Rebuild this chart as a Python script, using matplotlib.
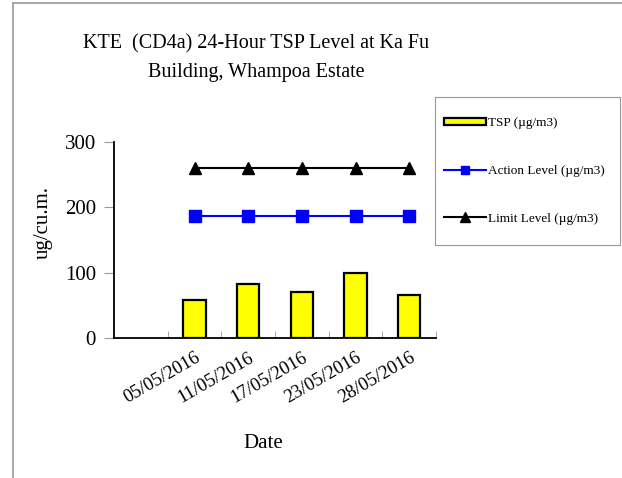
import numpy as np
import matplotlib.pyplot as plt
from matplotlib.lines import Line2D

plt.rcParams["font.family"] = ["Liberation Serif", "DejaVu Serif"]

dates = ["", "05/05/2016", "11/05/2016", "17/05/2016", "23/05/2016", "28/05/2016"]
tsp = [np.nan, 58, 83, 70, 100, 66]
action_level = [np.nan, 187, 187, 187, 187, 187]
limit_level = [np.nan, 260, 260, 260, 260, 260]

W, H = 622, 478
fig = plt.figure(figsize=(W / 100, H / 100), dpi=100)
ax = fig.add_axes([114 / W, 1 - 338 / H, (436 - 114) / W, (338 - 142) / H])

x = np.arange(len(dates)) + 0.5
bars = ax.bar(x, tsp, width=0.41, color="#FFFF00", edgecolor="black", linewidth=1.6,
              label="TSP (µg/m3)", zorder=2)
l1, = ax.plot(x, action_level, color="#0000FF", lw=1.5, marker="s", ms=8,
              label="Action Level (µg/m3)", zorder=3)
l2, = ax.plot(x, limit_level, color="black", lw=1.5, marker="^", ms=9,
              label="Limit Level (µg/m3)", zorder=3)

ax.set_xlim(0, len(dates))
ax.set_ylim(0, 300)
ax.set_yticks([0, 100, 200, 300])
ax.tick_params(axis="y", direction="out", length=7, color="#999999", labelsize=15, pad=6)

ax.set_xticks(x)
ax.set_xticklabels(dates, rotation=30, ha="right", rotation_mode="anchor", fontsize=13.5)
ax.tick_params(axis="x", length=0, pad=8)
ax.set_xticks(np.arange(1, len(dates) + 1), minor=True)
ax.tick_params(axis="x", which="minor", direction="in", length=5, color="#999999")

for s in ["top", "right"]:
    ax.spines[s].set_visible(False)
ax.spines["left"].set_linewidth(1.3)
ax.spines["bottom"].set_linewidth(1.3)

ax.set_ylabel("ug/cu.m.", fontsize=15)
ax.yaxis.set_label_coords(-0.19, 0.59)
fig.text(263 / W, 1 - 443 / H, "Date", fontsize=15, ha="center", va="center")
fig.text(256 / W, 1 - 58 / H, "KTE  (CD4a) 24-Hour TSP Level at Ka Fu\nBuilding, Whampoa Estate",
         fontsize=14.5, ha="center", va="center", linespacing=1.7)

# legend box
lax = fig.add_axes([435 / W, 1 - 245 / H, (620 - 435) / W, (245 - 97) / H])
lax.set_xticks([])
lax.set_yticks([])
for s in lax.spines.values():
    s.set_color("#999999")
lax.legend([bars, l1, l2], [bars.get_label(), l1.get_label(), l2.get_label()],
           loc="center left", frameon=False, fontsize=9.5, markerscale=0.75,
           handlelength=3.2, handleheight=0.5, handletextpad=0.1,
           labelspacing=2.7, borderaxespad=0.3)

# page border
fig.add_artist(Line2D([13 / W, 13 / W], [0, 1 - 3 / H], color="#999999", lw=1.2))
fig.add_artist(Line2D([13 / W, 1], [1 - 3 / H, 1 - 3 / H], color="#999999", lw=1.2))

fig.savefig("out.png", dpi=100)
